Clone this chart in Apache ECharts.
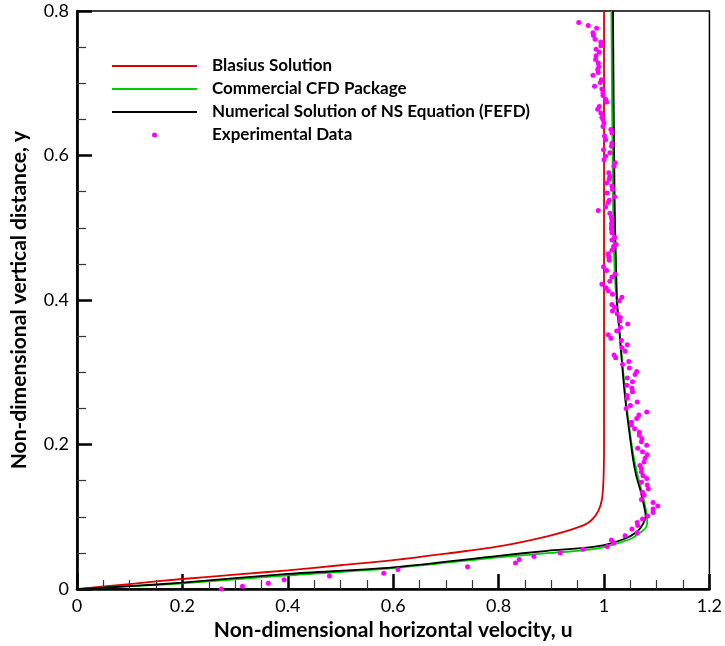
<!DOCTYPE html>
<html>
<head>
<meta charset="utf-8">
<script src="https://cdn.jsdelivr.net/npm/echarts@6/dist/echarts.min.js"></script>
<style>
  html, body { margin: 0; padding: 0; background: #fff; }
  #chart { width: 725px; height: 646px; }
</style>
</head>
<body>
<div id="chart"></div>
<script>
// Velocity profiles: [u, y] pairs (horizontal velocity, vertical distance)
const blasius = [
  [0, 0], [0.1, 0.007], [0.2, 0.014], [0.3, 0.020], [0.4, 0.026], [0.5, 0.033],
  [0.6, 0.040], [0.7, 0.049], [0.8, 0.059], [0.892, 0.073], [0.949, 0.085],
  [0.974, 0.094], [0.989, 0.108], [0.996, 0.124], [0.999, 0.152], [1.0, 0.2], [1.0, 0.8]
];
const commercialCFD = [
  [0, 0], [0.1, 0.004], [0.2, 0.008], [0.4, 0.019], [0.6, 0.029], [0.8, 0.044],
  [0.9, 0.050], [0.986, 0.056], [1.049, 0.069], [1.074, 0.081], [1.081, 0.0875],
  [1.082, 0.097], [1.079, 0.111], [1.072, 0.134], [1.064, 0.157], [1.057, 0.180],
  [1.050, 0.212], [1.042, 0.258], [1.036, 0.304], [1.030, 0.350], [1.024, 0.396],
  [1.020, 0.442], [1.017, 0.54], [1.014, 0.8]
];
const fefdSolution = [
  [0, 0], [0.1, 0.004], [0.2, 0.009], [0.4, 0.021], [0.6, 0.030], [0.8, 0.046],
  [0.892, 0.053], [0.986, 0.059], [1.037, 0.069], [1.062, 0.079], [1.074, 0.090],
  [1.079, 0.101], [1.077, 0.111], [1.070, 0.134], [1.061, 0.157], [1.055, 0.180],
  [1.049, 0.212], [1.041, 0.258], [1.035, 0.304], [1.030, 0.350], [1.025, 0.396],
  [1.023, 0.442], [1.020, 0.54], [1.017, 0.8]
];
const experimental = [
  [0.952,0.784],[0.970,0.780],[0.986,0.776],[0.979,0.770],[0.980,0.766],[0.983,0.761],
  [0.994,0.757],[0.994,0.752],[0.985,0.747],[0.991,0.743],[0.985,0.738],[0.984,0.733],
  [0.989,0.728],[0.990,0.723],[0.988,0.719],[0.989,0.715],[0.979,0.711],[0.995,0.705],
  [0.993,0.701],[0.982,0.696],[0.996,0.692],[0.998,0.687],[0.998,0.683],[1.003,0.678],
  [1.005,0.674],[0.991,0.668],[0.988,0.664],[0.994,0.659],[0.996,0.653],[0.998,0.650],
  [1.000,0.645],[0.998,0.640],[1.013,0.636],[1.015,0.631],[1.001,0.627],[1.003,0.622],
  [1.015,0.617],[1.014,0.613],[0.999,0.608],[1.011,0.604],[1.003,0.599],[1.000,0.594],
  [1.021,0.590],[1.019,0.585],[1.009,0.576],[1.011,0.571],[1.010,0.567],[1.005,0.562],
  [1.015,0.558],[1.016,0.553],[1.006,0.548],[1.020,0.543],[1.010,0.538],[1.008,0.535],
  [1.003,0.529],[0.989,0.524],[1.011,0.520],[1.014,0.515],[1.015,0.511],[1.014,0.506],
  [1.014,0.501],[1.014,0.498],[1.015,0.493],[1.020,0.487],[1.015,0.483],[1.023,0.477],
  [1.018,0.474],[1.015,0.469],[1.008,0.464],[1.009,0.460],[1.010,0.455],[0.999,0.446],
  [1.005,0.441],[1.021,0.436],[1.015,0.432],[1.011,0.426],[0.996,0.422],[1.004,0.417],
  [1.008,0.413],[1.016,0.408],[1.034,0.404],[1.029,0.399],[1.015,0.394],[1.020,0.390],
  [1.016,0.385],[1.025,0.381],[1.031,0.376],[1.030,0.371],[1.045,0.367],[1.031,0.362],
  [1.024,0.357],[1.008,0.352],[1.013,0.347],[1.033,0.344],[1.044,0.338],[1.034,0.334],
  [1.040,0.329],[1.019,0.324],[1.022,0.320],[1.047,0.315],[1.035,0.311],[1.048,0.306],
  [1.062,0.301],[1.059,0.297],[1.044,0.292],[1.054,0.287],[1.043,0.282],[1.053,0.278],
  [1.054,0.273],[1.044,0.268],[1.044,0.264],[1.063,0.259],[1.050,0.254],[1.042,0.250],
  [1.081,0.245],[1.066,0.241],[1.062,0.236],[1.052,0.231],[1.052,0.227],[1.058,0.222],
  [1.067,0.217],[1.067,0.213],[1.072,0.208],[1.071,0.204],[1.081,0.199],[1.064,0.195],
  [1.073,0.190],[1.082,0.186],[1.078,0.181],[1.076,0.176],[1.068,0.171],[1.071,0.167],
  [1.071,0.162],[1.074,0.157],[1.081,0.153],[1.071,0.148],[1.082,0.144],[1.084,0.139],
  [1.073,0.134],[1.076,0.130],[1.071,0.124],[1.093,0.120],[1.102,0.115],[1.093,0.111],
  [1.093,0.106],[1.083,0.101],[1.073,0.097],[1.063,0.092],[1.064,0.088],[1.053,0.083],
  [1.063,0.078],[1.040,0.074],[1.014,0.068],[1.018,0.064],[1.006,0.059],[0.960,0.055],
  [0.917,0.050],[0.867,0.045],[0.839,0.041],[0.832,0.036],[0.741,0.031],[0.609,0.027],
  [0.582,0.022],[0.479,0.018],[0.393,0.013],[0.363,0.008],[0.314,0.004],[0.274,0.0]
];

const xTicks = { min: 0, max: 1.2, interval: 0.2 };
const yTicks = { min: 0, max: 0.8, interval: 0.2 };
const seriesNames = [
  'Blasius Solution',
  'Commercial CFD Package',
  'Numerical Solution of NS Equation (FEFD)',
  'Experimental Data'
];

const FONT = 'Lato';
// thin horizontal bar used as the legend key for the line series
const LINE_KEY = 'path://M0,0H85V1.8H0Z';

const chart = echarts.init(document.getElementById('chart'), null, { renderer: 'canvas' });

function axisCommon() {
  return {
    axisLine: { show: true, onZero: false, lineStyle: { color: '#000', width: 2.7 } },
    axisTick: { show: true, inside: true, length: 15, lineStyle: { color: '#000', width: 2.5 } },
    minorTick: { show: true, splitNumber: 4, length: 9, lineStyle: { color: '#333', width: 1.2 } },
    splitLine: { show: false },
    minorSplitLine: { show: false },
    axisLabel: {
      color: '#000', fontFamily: FONT, fontSize: 18, margin: 8,
      formatter: v => String(+v.toFixed(2))
    },
    nameLocation: 'middle',
    nameTextStyle: { color: '#000', fontFamily: FONT, fontWeight: 'bold', fontSize: 21 }
  };
}

chart.setOption({
  animation: false,
  backgroundColor: '#fff',
  grid: {
    left: 77, right: 12, top: 11, bottom: 56,
    show: true, borderColor: '#000', borderWidth: 1.5, backgroundColor: 'transparent'
  },
  legend: {
    orient: 'vertical',
    left: 112, top: 57.5,
    padding: 0,
    itemWidth: 85, itemHeight: 5, itemGap: 6,
    symbolKeepAspect: true,
    textStyle: { color: '#000', fontFamily: FONT, fontWeight: 'bold', fontSize: 17, padding: [0, 0, 0, 10] },
    data: seriesNames.map(n => n === 'Experimental Data'
      ? { name: n, icon: 'circle' }
      : { name: n, icon: LINE_KEY })
  },
  xAxis: Object.assign(axisCommon(), {
    type: 'value', min: xTicks.min, max: xTicks.max, interval: xTicks.interval,
    name: 'Non-dimensional horizontal velocity, u', nameGap: 29
  }),
  yAxis: Object.assign(axisCommon(), {
    type: 'value', min: yTicks.min, max: yTicks.max, interval: yTicks.interval,
    name: 'Non-dimensional vertical distance, y', nameGap: 47
  }),
  series: [
    { name: seriesNames[0], type: 'line', data: blasius, symbol: 'none', smooth: 0.3,
      lineStyle: { color: '#dd0000', width: 1.8 }, itemStyle: { color: '#dd0000' }, z: 3 },
    { name: seriesNames[1], type: 'line', data: commercialCFD, symbol: 'none', smooth: 0.3,
      lineStyle: { color: '#00cc00', width: 1.8 }, itemStyle: { color: '#00cc00' }, z: 3 },
    { name: seriesNames[2], type: 'line', data: fefdSolution, symbol: 'none', smooth: 0.3,
      lineStyle: { color: '#000000', width: 1.8 }, itemStyle: { color: '#000000' }, z: 4 },
    { name: seriesNames[3], type: 'scatter', data: experimental, symbol: 'circle', symbolSize: 5,
      itemStyle: { color: '#ff00ff', opacity: 1 }, z: 5 }
  ]
});
</script>
</body>
</html>
